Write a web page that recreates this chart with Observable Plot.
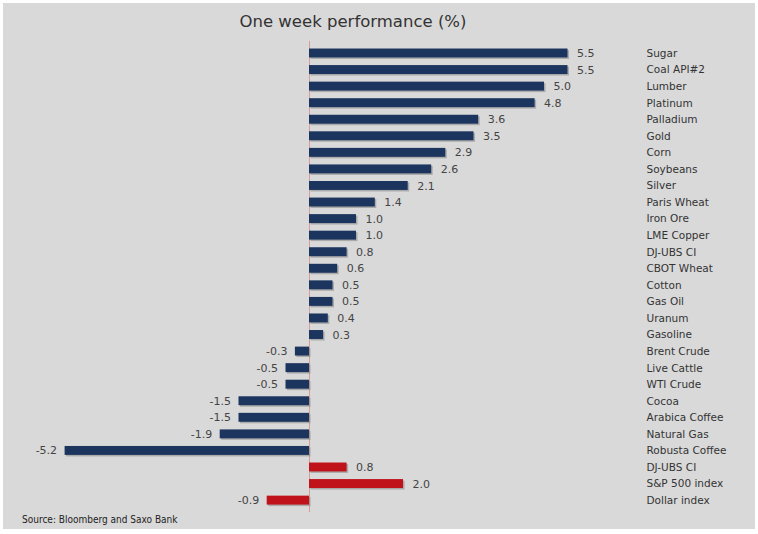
<!DOCTYPE html>
<html>
<head>
<meta charset="utf-8">
<script src="https://cdn.jsdelivr.net/npm/d3@7"></script>
<script src="https://cdn.jsdelivr.net/npm/@observablehq/plot@0.6"></script>
<style>
  html, body { margin: 0; padding: 0; background: #ffffff; }
  #wrap { position: relative; width: 758px; height: 534px; overflow: hidden; }
  #panel { position: absolute; left: 3px; top: 3px; width: 752px; height: 526px; background: #d9d9d9; }
  #chart { position: absolute; left: 0; top: 0; }
  #title { position: absolute; left: 0; width: 706px; top: 12px; text-align: center;
           font-family: "DejaVu Sans", sans-serif; font-size: 16.5px; color: #333; }
  #source { position: absolute; left: 22px; top: 514px; font-family: "DejaVu Sans Condensed", "DejaVu Sans", sans-serif;
            font-size: 10px; color: #222; }
</style>
</head>
<body>
<div id="wrap">
  <div id="panel"></div>
  <div id="chart"></div>
  <div id="title">One week performance (%)</div>
  <div id="source">Source: Bloomberg and Saxo Bank</div>
</div>
<script>
const categories = ["Sugar","Coal API#2","Lumber","Platinum","Palladium","Gold","Corn","Soybeans","Silver","Paris Wheat","Iron Ore","LME Copper","DJ-UBS CI","CBOT Wheat","Cotton","Gas Oil","Uranum","Gasoline","Brent Crude","Live Cattle","WTI Crude","Cocoa","Arabica Coffee","Natural Gas","Robusta Coffee","DJ-UBS CI ","S&P 500 index","Dollar index"];
const values = [5.5,5.5,5.0,4.8,3.6,3.5,2.9,2.6,2.1,1.4,1.0,1.0,0.8,0.6,0.5,0.5,0.4,0.3,-0.3,-0.5,-0.5,-1.5,-1.5,-1.9,-5.2,0.8,2.0,-0.9];
const groups = ["commodity","commodity","commodity","commodity","commodity","commodity","commodity","commodity","commodity","commodity","commodity","commodity","commodity","commodity","commodity","commodity","commodity","commodity","commodity","commodity","commodity","commodity","commodity","commodity","commodity","index","index","index"];

const data = categories.map((c, i) => ({cat: c, value: values[i], group: groups[i]}));
const font = "DejaVu Sans, sans-serif";

const chart = Plot.plot({
  width: 758,
  height: 534,
  marginLeft: 27,
  marginRight: 73,
  marginTop: 40.9,
  marginBottom: 21.8,
  style: {background: "transparent", fontFamily: font},
  x: {domain: [-6, 8], axis: null},
  y: {domain: categories, axis: null, padding: 0.46, round: false},
  color: {domain: ["commodity", "index"], range: ["#1c355e", "#c0121b"]},
  marks: [
    Plot.ruleX([0], {stroke: "#d99a9a", strokeWidth: 1}),
    Plot.barX(data, {x: "value", y: "cat", fill: "#8a8a8a", dx: 1.5, dy: 1.5, fillOpacity: 0.6}),
    Plot.barX(data, {x: "value", y: "cat", fill: "group"}),
    Plot.text(data.filter(d => d.value >= 0), {x: "value", y: "cat", text: d => d.value.toFixed(1), textAnchor: "start", dx: 9, fill: "#444", fontSize: 11, fontFamily: font}),
    Plot.text(data.filter(d => d.value < 0), {x: "value", y: "cat", text: d => d.value.toFixed(1), textAnchor: "end", dx: -8, fill: "#444", fontSize: 11, fontFamily: font}),
    Plot.text(data, {y: "cat", text: d => d.cat.trim(), frameAnchor: "right", textAnchor: "start", dx: -39, fill: "#333", fontSize: 10.5, fontFamily: font})
  ]
});
document.getElementById("chart").appendChild(chart);
</script>
</body>
</html>
